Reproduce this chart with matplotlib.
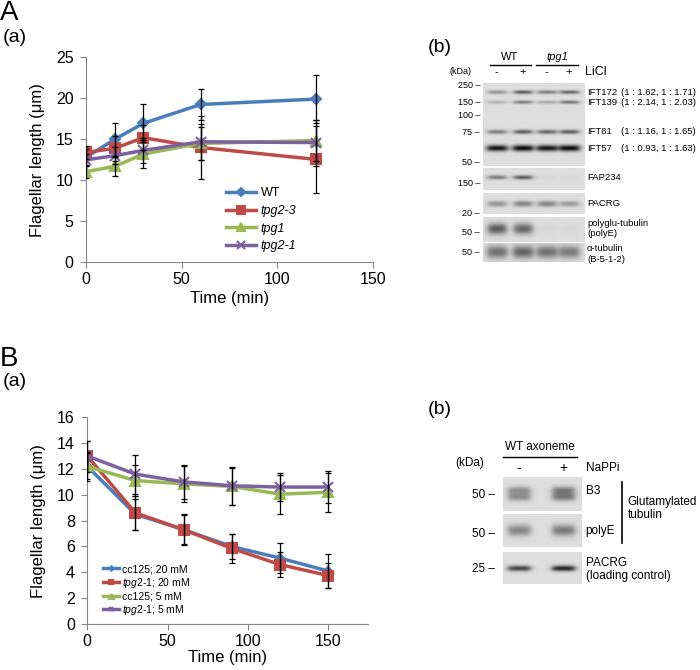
import numpy as np
import matplotlib
matplotlib.use("Agg")
import matplotlib.pyplot as plt

plt.rcParams['font.family'] = ['Liberation Sans', 'DejaVu Sans']
plt.rcParams['mathtext.fontset'] = 'custom'
plt.rcParams['mathtext.rm'] = 'Liberation Sans'
plt.rcParams['mathtext.it'] = 'Liberation Sans:italic'

# ---- A(a): flagellar length after LiCl ----
time_a = [0, 15, 30, 60, 120]
wt = [12.8, 15.0, 16.95, 19.25, 19.9]
wt_err = [1.0, 2.0, 2.3, 1.9, 2.9]
tpg23 = [13.4, 13.9, 15.2, 14.0, 12.55]
tpg23_err = [0.8, 1.5, 1.5, 3.8, 4.1]
tpg1 = [11.05, 11.7, 13.2, 14.5, 14.85]
tpg1_err = [0.8, 1.2, 1.7, 2.0, 2.5]
tpg21 = [12.5, 13.0, 13.65, 14.7, 14.6]
tpg21_err = [0.7, 1.0, 1.5, 2.2, 2.8]

# ---- B(a): flagellar length after NaPPi ----
time_b = [0, 30, 60, 90, 120, 150]
cc125_20 = [12.2, 8.5, 7.3, 6.0, 5.1, 4.1]
cc125_20_err = [1.0, 1.2, 1.1, 1.0, 1.15, 1.3]
tpg21_20 = [13.0, 8.6, 7.3, 5.85, 4.6, 3.75]
tpg21_20_err = [1.2, 1.3, 1.2, 1.1, 1.0, 1.0]
cc125_5 = [12.2, 11.1, 10.85, 10.65, 10.05, 10.2]
cc125_5_err = [1.1, 1.2, 1.4, 1.4, 1.5, 1.5]
tpg21_5 = [13.0, 11.6, 11.0, 10.7, 10.6, 10.6]
tpg21_5_err = [1.2, 1.5, 1.3, 1.45, 1.1, 1.25]

# ---- blot band darkness per lane (0 = none, 1 = black) ----
ift172 = [0.35, 0.6, 0.45, 0.55]
ift139 = [0.2, 0.45, 0.25, 0.5]
ift81 = [0.45, 0.6, 0.55, 0.6]
ift57 = [0.92, 0.97, 0.92, 0.97]
fap234 = [0.45, 0.6, 0.03, 0.03]
pacrg_a = [0.35, 0.42, 0.42, 0.32]
polye_a = [0.6, 0.55, 0.03, 0.03]
atub = [0.5, 0.55, 0.5, 0.45]
b3 = [0.35, 0.45]
polye_b = [0.4, 0.45]
pacrg_b = [0.7, 0.85]

ratios = ["(1 : 1.62, 1 : 1.71)", "(1 : 2.14, 1 : 2.03)",
          "(1 : 1.16, 1 : 1.65)", "(1 : 0.93, 1 : 1.63)"]

BLUE, RED, GREEN, PURPLE = '#4A7EBB', '#BE4B48', '#98B954', '#7D60A0'

fig = plt.figure(figsize=(7, 6.7), dpi=100)

# overlay in pixel coordinates for labels and blots
ov = fig.add_axes([0, 0, 1, 1])
ov.set_xlim(0, 700)
ov.set_ylim(670, 0)
ov.axis('off')


def blot(x0, y0, x1, y1, lanes, bands, bg=0.87):
    xs = np.linspace(x0, x1, int((x1 - x0) * 3))
    ys = np.linspace(y0, y1, int((y1 - y0) * 3))
    X, Y = np.meshgrid(xs, ys)
    dark = np.zeros_like(X)
    for yc, sig, hw, vals in bands:
        for lx, v in zip(lanes, vals):
            horiz = 1 / (1 + np.exp((np.abs(X - lx) - hw) / 1.8))
            vert = np.exp(-0.5 * ((Y - yc) / sig) ** 2)
            dark += v * horiz * vert
    img = bg * (1 - np.clip(dark, 0, 1))
    ov.imshow(img, cmap='gray', vmin=0, vmax=1, extent=(x0, x1, y1, y0),
              interpolation='bilinear', aspect='auto')


def txt(x, y, s, size=7, ha='left', **kw):
    ov.text(x, y, s, fontsize=size, ha=ha, va='center', **kw)


# panel letters
txt(0, 13, "A", size=20)
txt(3, 38, "(a)", size=14)
txt(0, 359, "B", size=20)
txt(3, 381, "(a)", size=14)
txt(428, 47, "(b)", size=14)
txt(428, 410, "(b)", size=14)

# ---- A(b) blot ----
lanes_a = [496.7, 522.7, 546.7, 569]
blot(482.7, 83.3, 584.3, 166, lanes_a,
     [(92.3, 1.3, 9, ift172), (102.3, 1.2, 9, ift139),
      (132, 1.5, 9, ift81), (148.3, 2.2, 10, ift57)])
blot(482.7, 168.3, 584.3, 190, lanes_a, [(177.5, 1.5, 9, fap234)])
blot(482.7, 193.3, 584.3, 214, lanes_a, [(204, 2.0, 9, pacrg_a)])
blot(482.7, 216.7, 584.3, 241.7, lanes_a, [(228.5, 4.0, 9, polye_a)])
blot(482.7, 243.3, 584.3, 261.7, lanes_a, [(252, 4.5, 10, atub)])

txt(510, 57, "WT", size=8, ha='center')
txt(557, 57, "tpg1", size=8, ha='center', style='italic')
ov.plot([490, 531], [64.5, 64.5], color='black', lw=1)
ov.plot([536, 578], [64.5, 64.5], color='black', lw=1)
txt(460, 72, "(kDa)", size=6.5, ha='center')
for lx, s in zip(lanes_a, ["-", "+", "-", "+"]):
    txt(lx, 72, s, size=8, ha='center')
txt(585, 72, "LiCl", size=9)
for s, y in [("250 –", 85.7), ("150 –", 102.3), ("100 –", 116), ("75 –", 132.7),
             ("50 –", 162.7), ("150 –", 183.3), ("20 –", 214), ("50 –", 232.3),
             ("50 –", 252.7)]:
    txt(480, y, s, size=6.5, ha='right')
for name, r, y in zip(["IFT172", "IFT139", "IFT81", "IFT57"], ratios,
                      [92.3, 102.3, 132, 148.3]):
    txt(587, y, name, size=6.8)
    txt(621, y, r, size=6.8)
txt(587, 177.3, "FAP234", size=6.8)
txt(587, 204, "PACRG", size=6.8)
txt(587, 223.3, "polyglu-tubulin", size=6.8)
txt(587, 234, "(polyE)", size=6.8)
txt(587, 248.3, "α-tubulin", size=6.8)
txt(587, 259.3, "(B-5-1-2)", size=6.8)

# ---- B(b) blot ----
lanes_b = [518.7, 562.7]
blot(502.7, 477.3, 580.7, 510.7, lanes_b,
     [(490.5, 2.8, 11, b3), (497, 2.8, 11, b3)])
blot(502.7, 515, 580.7, 547.3, lanes_b, [(531, 4.0, 11, polye_b)])
blot(502.7, 552.3, 580.7, 584, lanes_b, [(568.5, 2.0, 11, pacrg_b)])

txt(540, 447.3, "WT axoneme", size=8.5, ha='center')
ov.plot([503.3, 576.7], [456.7, 456.7], color='black', lw=1)
txt(470, 463.3, "(kDa)", size=8.5, ha='center')
txt(519, 467.7, "-", size=10, ha='center')
txt(563.3, 467.7, "+", size=10, ha='center')
txt(585.7, 468.3, "NaPPi", size=8.5)
for s, y in [("50 –", 495), ("50 –", 534.3), ("25 –", 569)]:
    txt(495, y, s, size=8.5, ha='right')
txt(585.7, 490.7, "B3", size=8.5)
txt(585.7, 530.7, "polyE", size=8.5)
txt(585.7, 563.3, "PACRG", size=8.5)
txt(585.7, 576, "(loading control)", size=8.5)
ov.plot([621.7, 621.7], [481.7, 542.7], color='black', lw=1.2)
txt(627.5, 502.3, "Glutamylated", size=8.5)
txt(627.5, 515, "tubulin", size=8.5)

ov.set_xlim(0, 700)
ov.set_ylim(670, 0)


def style(ax):
    for s in ['top', 'right']:
        ax.spines[s].set_visible(False)
    for s in ['left', 'bottom']:
        ax.spines[s].set_color('#868686')
    ax.tick_params(direction='out', length=4, color='#868686', labelsize=11.5)
    ax.tick_params(axis='y', pad=5)
    ax.tick_params(axis='x', pad=3)
    ax.set_facecolor('none')


def series(ax, t, y, e, c, m, ms, label):
    ax.plot(t, y, color=c, marker=m, ms=ms, lw=2.5, mew=1.5, mec=c, mfc=c,
            label=label, zorder=2)
    ax.errorbar(t, y, yerr=e, fmt='none', ecolor='black', elinewidth=0.9,
                capsize=2.5, capthick=0.9, zorder=3)


# ---- A(a) ----
axA = fig.add_axes([86 / 700, 1 - 262.3 / 670, 287 / 700, 205 / 670])
style(axA)
series(axA, time_a, wt, wt_err, BLUE, 'D', 5, 'WT')
series(axA, time_a, tpg23, tpg23_err, RED, 's', 7, 'tpg2-3')
series(axA, time_a, tpg1, tpg1_err, GREEN, '^', 7, 'tpg1')
series(axA, time_a, tpg21, tpg21_err, PURPLE, 'x', 7, 'tpg2-1')
axA.set_xlim(0, 150)
axA.set_ylim(0, 25)
axA.set_xticks([0, 50, 100, 150])
axA.set_yticks([0, 5, 10, 15, 20, 25])
axA.set_xlabel("Time (min)", fontsize=12, labelpad=3)
axA.set_ylabel("Flagellar length (μm)", fontsize=12, labelpad=8)
legA = axA.legend(loc='upper left', bbox_to_anchor=(0.47, 0.39), frameon=False,
                  fontsize=9, handlelength=2.4, labelspacing=0.45, handletextpad=0.4,
                  borderaxespad=0, markerscale=0.8)
for t in legA.get_texts()[1:]:
    t.set_style('italic')

# ---- B(a) ----
axB = fig.add_axes([87.3 / 700, 1 - 624 / 670, 281 / 700, 206.7 / 670])
style(axB)
series(axB, time_b, cc125_20, cc125_20_err, BLUE, 'D', 4.5, 'cc125; 20 mM')
series(axB, time_b, tpg21_20, tpg21_20_err, RED, 's', 7, r'$\mathit{tpg2}$-$\mathit{1}$; 20 mM')
series(axB, time_b, cc125_5, cc125_5_err, GREEN, '^', 7, 'cc125; 5 mM')
series(axB, time_b, tpg21_5, tpg21_5_err, PURPLE, 'x', 7, r'$\mathit{tpg2}$-$\mathit{1}$; 5 mM')
axB.set_xlim(0, 175)
axB.set_ylim(0, 16)
axB.set_xticks([0, 50, 100, 150])
axB.set_yticks(range(0, 17, 2))
axB.set_xlabel("Time (min)", fontsize=12, labelpad=1)
axB.set_ylabel("Flagellar length (μm)", fontsize=12, labelpad=8)
legB = axB.legend(loc='upper left', bbox_to_anchor=(0.04, 0.31), frameon=False,
                  fontsize=7.5, handlelength=1.6, labelspacing=0.15, handletextpad=0.3,
                  borderaxespad=0, markerscale=0.5)

fig.savefig("out.png", dpi=100)
